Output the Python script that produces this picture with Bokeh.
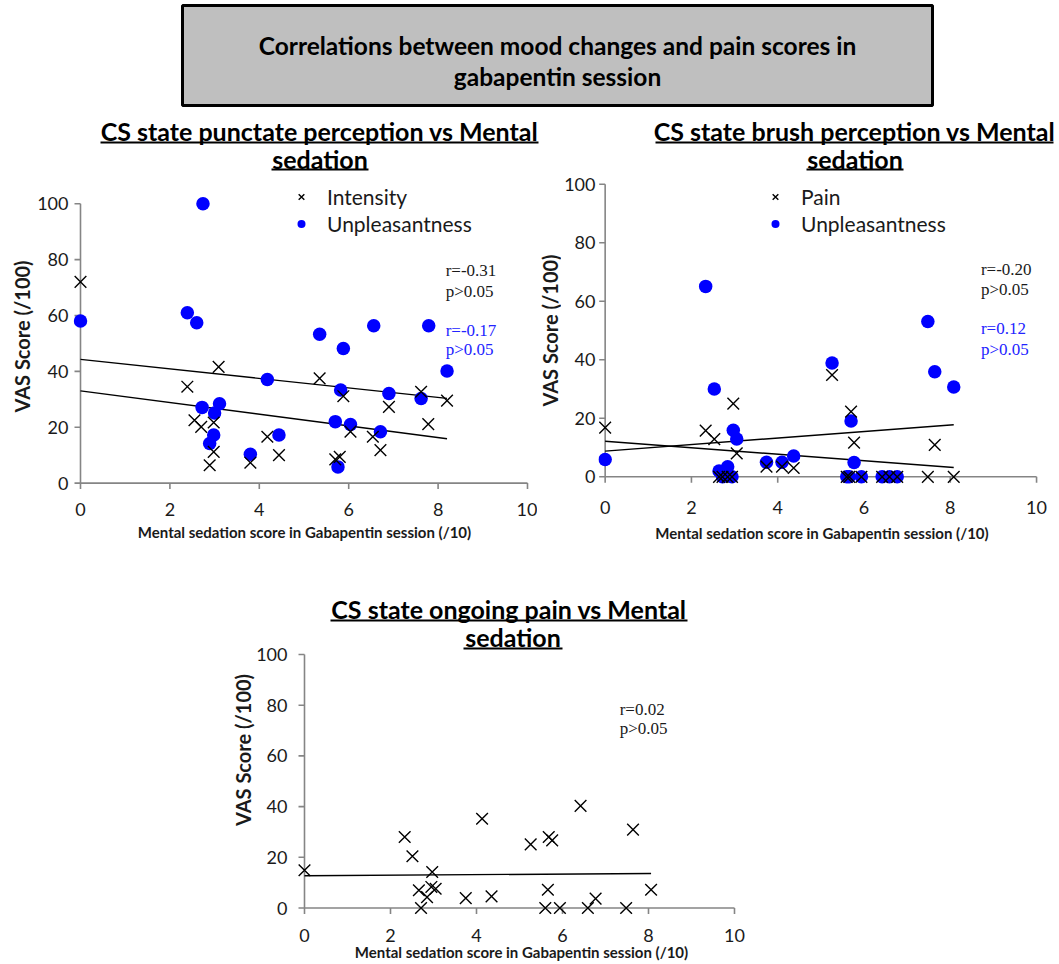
import numpy as np
from bokeh.plotting import figure
from bokeh.layouts import column, row
from bokeh.models import Range1d, FixedTicker, Legend, LegendItem, Label, Spacer
from bokeh.core.properties import value
from bokeh.embed import file_html
from bokeh.resources import INLINE

# ---------------- text ----------------
main_title = ["Correlations between mood changes and pain scores in", "gabapentin session"]
punctate_title = ["CS state punctate perception vs Mental", "sedation"]
brush_title = ["CS state brush perception vs Mental", "sedation"]
ongoing_title = ["CS state ongoing pain vs Mental", "sedation"]
x_axis_title = "Mental sedation score in Gabapentin session (/10)"
y_axis_title = "VAS Score (/100)"
x_ticks = [0, 2, 4, 6, 8, 10]
y_ticks = [0, 20, 40, 60, 80, 100]

# ---------------- punctate perception ----------------
punct_int_x = [0.0, 2.39, 2.55, 2.70, 2.98, 2.98, 2.89, 3.09, 3.80, 4.18, 4.44, 5.35,
               5.70, 5.80, 5.88, 6.04, 6.54, 6.71, 6.90, 7.62, 7.78, 8.20]
punct_int_y = [72.0, 34.5, 22.5, 20.1, 21.7, 11.2, 6.4, 41.6, 7.3, 16.6, 10.0, 37.5,
               8.5, 9.4, 31.1, 18.4, 16.6, 11.8, 27.3, 32.7, 21.1, 29.5]
punct_unp_x = [0.0, 2.39, 2.60, 2.74, 2.72, 3.11, 3.00, 2.98, 2.89, 3.80, 4.18, 4.44,
               5.35, 5.70, 5.76, 5.82, 5.88, 6.04, 6.56, 6.71, 6.90, 7.62, 7.79, 8.20]
punct_unp_y = [58.0, 61.0, 57.4, 100.0, 27.1, 28.4, 25.1, 17.2, 14.2, 10.3, 37.1, 17.2,
               53.3, 22.0, 5.8, 33.3, 48.2, 21.0, 56.3, 18.4, 32.1, 30.3, 56.3, 40.1]
punct_series = ["Intensity", "Unpleasantness"]
punct_stats = [["r=-0.31", "p>0.05"], ["r=-0.17", "p>0.05"]]

# ---------------- brush perception ----------------
brush_x = [0.0, 2.33, 2.53, 2.64, 2.72, 2.84, 2.94, 2.97, 3.05, 3.74, 4.10, 4.37,
           5.26, 5.60, 5.66, 5.70, 5.77, 5.94, 6.42, 6.59, 6.77, 7.48, 7.64, 8.08]
brush_pain = [16.8, 15.8, 12.9, 0.0, 0.0, 0.0, 0.0, 25.0, 8.0, 3.5, 3.5, 3.0,
              34.8, 0.0, 0.0, 22.3, 11.7, 0.0, 0.0, 0.0, 0.0, 0.0, 10.9, 0.0]
brush_unp = [5.9, 65.1, 30.0, 2.0, 0.0, 3.4, 0.0, 15.9, 12.9, 5.0, 5.0, 7.1,
             38.9, 0.0, 0.0, 19.1, 4.9, 0.0, 0.0, 0.0, 0.0, 53.1, 35.9, 30.7]
brush_series = ["Pain", "Unpleasantness"]
brush_stats = [["r=-0.20", "p>0.05"], ["r=0.12", "p>0.05"]]

# ---------------- ongoing pain ----------------
ongoing_x = [0.0, 2.33, 2.51, 2.66, 2.71, 2.85, 2.95, 2.97, 3.05, 3.75, 4.13, 4.35,
             5.26, 5.60, 5.66, 5.68, 5.76, 5.94, 6.42, 6.59, 6.77, 7.48, 7.64, 8.06]
ongoing_y = [14.9, 28.0, 20.4, 7.0, 0.0, 4.3, 8.3, 14.2, 7.6, 3.9, 35.2, 4.6,
             25.1, 0.0, 7.2, 28.0, 26.7, 0.0, 40.3, 0.0, 3.7, 0.0, 30.9, 7.2]
ongoing_stats = ["r=0.02", "p>0.05"]

SANS = "Lato"
SERIF = "Liberation Serif"
BLUE = "#0000ff"
STAT_BLUE = "#2323ff"
INK = "#1a1a1a"
AXIS_GREY = "#858585"
TICK_LEN = 6
PAGE_W = 1059


def canvas(box, frame=None):
    """A blank panel whose data coordinates equal page pixels. box=(left, top, right, bottom)."""
    l, t, r, b = box
    fl, ft, fr, fb = frame if frame else box
    p = figure(width=r - l, height=b - t, x_range=Range1d(fl, fr), y_range=Range1d(fb, ft),
               x_axis_type=None, y_axis_type=None, min_border=0,
               min_border_left=fl - l, min_border_right=r - fr,
               min_border_top=ft - t, min_border_bottom=b - fb,
               output_backend="svg", toolbar_location=None)
    p.outline_line_color = None
    p.grid.visible = False
    return p


def heading(p, lines, centers, ys, size, spans, underline_ys, **names):
    p.text(x=centers, y=ys, text=lines, text_align="center", text_baseline="middle",
           text_font=value(SANS), text_font_style="bold", text_font_size=size,
           text_color="black", **names)
    p.segment(x0=[s[0] for s in spans], x1=[s[1] for s in spans],
              y0=underline_ys, y1=underline_ys, line_color="black", line_width=2, **names)


def axis_range(lo_px, hi_px, zero_px, full_px, full):
    """Data range whose ends land on the given page pixels (0 at zero_px, full at full_px)."""
    scale = (full_px - zero_px) / full
    a, b = (lo_px - zero_px) / scale, (hi_px - zero_px) / scale
    return (min(a, b), max(a, b))


def scatter_figure(page_box, frame_box, x_anchor, y_anchor, label_gaps, y_title=True):
    """page_box / frame_box: (left, top, right, bottom) in page pixels."""
    fl, ft, fr, fb = frame_box
    pl, pt, pr, pb = page_box
    xr = axis_range(fl, fr, x_anchor[0], x_anchor[1], x_ticks[-1])
    yr = axis_range(fb, ft, y_anchor[0], y_anchor[1], y_ticks[-1])
    p = figure(width=pr - pl, height=pb - pt, x_range=Range1d(*xr), y_range=Range1d(*yr),
               min_border_left=fl - pl, min_border_right=pr - fr,
               min_border_top=ft - pt, min_border_bottom=pb - fb,
               output_backend="svg", toolbar_location=None)
    p.grid.visible = False
    p.outline_line_color = None
    p.extra_x_ranges = {"page": Range1d(fl, fr)}
    p.extra_y_ranges = {"page": Range1d(fb, ft)}

    xs_tick, xs_lab, ys_tick, ys_lab = label_gaps
    # the side axes carry the numbers and the titles
    for ax in (p.xaxis[0], p.yaxis[0]):
        ax.axis_line_color = None
        ax.major_tick_line_color = None
        ax.minor_tick_line_color = None
        ax.major_tick_out = 0
        ax.major_tick_in = 0
        ax.major_label_text_font = SANS
        ax.major_label_text_font_size = "18px"
        ax.major_label_text_color = INK
        ax.axis_label_text_font = SANS
        ax.axis_label_text_font_style = "bold"
        ax.axis_label_text_color = INK
    p.xaxis.ticker = FixedTicker(ticks=x_ticks)
    p.yaxis.ticker = FixedTicker(ticks=y_ticks)
    p.xaxis.axis_label = x_axis_title
    p.xaxis.axis_label_text_font_size = "15px"
    p.xaxis.major_label_standoff = xs_tick
    p.xaxis.axis_label_standoff = xs_lab
    if y_title:
        p.yaxis.axis_label = y_axis_title
    p.yaxis.axis_label_text_font_size = "20px"
    p.yaxis.major_label_standoff = ys_tick
    p.yaxis.axis_label_standoff = ys_lab
    return p


def zero_axes(p, x0_px, y0_px):
    """Axis lines along x=0 and y=0, with tick marks hanging outward (page pixels for length)."""
    n_x, n_y = len(x_ticks), len(y_ticks)
    xs_page = [x0_px] * n_y
    ys_page = [y0_px] * n_x
    p.segment(x0=[x_ticks[0], x_ticks[0]], y0=[y_ticks[0], y_ticks[0]],
              x1=[x_ticks[-1], x_ticks[0]], y1=[y_ticks[0], y_ticks[-1]],
              line_color=AXIS_GREY, line_width=1.6, level="underlay")
    p.segment(x0=x_ticks, x1=x_ticks, y0=ys_page, y1=[v + TICK_LEN for v in ys_page],
              y_range_name="page", line_color=AXIS_GREY, line_width=1.6, level="underlay")
    p.segment(x0=[v - TICK_LEN for v in xs_page], x1=xs_page, y0=y_ticks, y1=y_ticks,
              x_range_name="page", line_color=AXIS_GREY, line_width=1.6, level="underlay")


def trend(p, xs, ys):
    slope, intercept = np.polyfit(xs, ys, 1)
    xa, xb = min(xs), max(xs)
    p.line([xa, xb], [intercept + slope * xa, intercept + slope * xb],
           line_color="black", line_width=1.4)


def dots(p, xs, ys):
    return p.scatter(xs, ys, marker="circle", size=13.5, fill_color=BLUE, line_color=None)


def crosses(p, xs, ys):
    return p.scatter(xs, ys, marker="x", size=16.5, line_color="black", line_width=1.4)


def legend(p, items, loc):
    leg = Legend(items=[LegendItem(label=lab, renderers=[ren]) for lab, ren in items],
                 location=loc, orientation="vertical", padding=0, spacing=2, margin=0,
                 glyph_width=20, glyph_height=25, label_height=25, label_standoff=16,
                 label_text_font=SANS, label_text_font_size="21px", label_text_color=INK,
                 border_line_color=None, background_fill_alpha=0)
    p.add_layout(leg)


def stats(p, x, ys, lines, color):
    for y, txt in zip(ys, lines):
        p.add_layout(Label(x=x, y=y, text=txt, text_font=SERIF, text_font_size="17px",
                           text_baseline="middle", text_color=color))


# ---------------- header strip (page y 0..172) ----------------
head = canvas((0, 0, PAGE_W, 172))
head.quad(left=[182], right=[932], top=[5], bottom=[105], fill_color="#bfbfbf",
          line_color="black", line_width=3)
head.text(x=[557, 557], y=[45, 76], text=main_title, text_align="center",
          text_baseline="middle", text_font=value(SANS), text_font_style="bold",
          text_font_size="24.5px", text_color="black")
heading(head, punctate_title, [319, 319.5], [130, 158], "25px",
        [(100, 538), (271, 368)], [142, 169])
heading(head, brush_title, [854, 854.5], [130, 158], "25px",
        [(655, 1053), (806, 903)], [142, 169])

# ---------------- punctate panel ----------------
tl = scatter_figure((0, 172, 537, 545), (73, 182, 535, 490), (80, 527), (482.6, 203.2),
                    (12, 4, 5, 0))
trend(tl, punct_int_x, punct_int_y)
trend(tl, punct_unp_x, punct_unp_y)
r_unp = dots(tl, punct_unp_x, punct_unp_y)
r_int = crosses(tl, punct_int_x, punct_int_y)
legend(tl, [(punct_series[0], r_int), (punct_series[1], r_unp)], (218, 254))
stats(tl, 8.17, [76.2, 68.6], punct_stats[0], INK)
stats(tl, 8.17, [54.6, 47.8], punct_stats[1], STAT_BLUE)
zero_axes(tl, 80, 482.6)

# ---------------- y title of the brush panel, in the gutter ----------------
gutter = canvas((537, 172, 561, 545), (537, 182, 561, 490))
gutter.text(x=[549], y=[330], text=[y_axis_title], angle=np.pi / 2, text_align="center",
            text_baseline="middle", text_font=value(SANS), text_font_style="bold",
            text_font_size="20px", text_color=INK)

# ---------------- brush panel ----------------
tr = scatter_figure((561, 172, 1059, 545), (595, 182, 1045, 490), (601.7, 1036),
                    (476.3, 183.8), (10, 7, 3, 0), y_title=False)
trend(tr, brush_x, brush_pain)
trend(tr, brush_x, brush_unp)
r_bunp = dots(tr, brush_x, brush_unp)
r_pain = crosses(tr, brush_x, brush_pain)
legend(tr, [(brush_series[0], r_pain), (brush_series[1], r_bunp)], (167, 254))
stats(tr, 8.71, [71.0, 64.0], brush_stats[0], INK)
stats(tr, 8.71, [50.8, 43.6], brush_stats[1], STAT_BLUE)
zero_axes(tr, 601.7, 476.3)

# ---------------- ongoing pain panel (its heading sits in the same canvas) ----------------
bt = scatter_figure((220, 545, 760, 964), (297, 585, 745, 914), (304, 734),
                    (907.5, 654), (14, -2, 10, -2))
heading(bt, ongoing_title, [508.5, 512.5], [608, 636], "25px",
        [(330, 687), (463, 562)], [620, 648], x_range_name="page", y_range_name="page")
trend(bt, ongoing_x, ongoing_y)
crosses(bt, ongoing_x, ongoing_y)
stats(bt, 7.33, [78.2, 70.7], ongoing_stats, INK)
zero_axes(bt, 304, 907.5)

layout = column(head, row(tl, gutter, tr), row(Spacer(width=220, height=419), bt))

open("out.html", "w").write(file_html(layout, INLINE))
